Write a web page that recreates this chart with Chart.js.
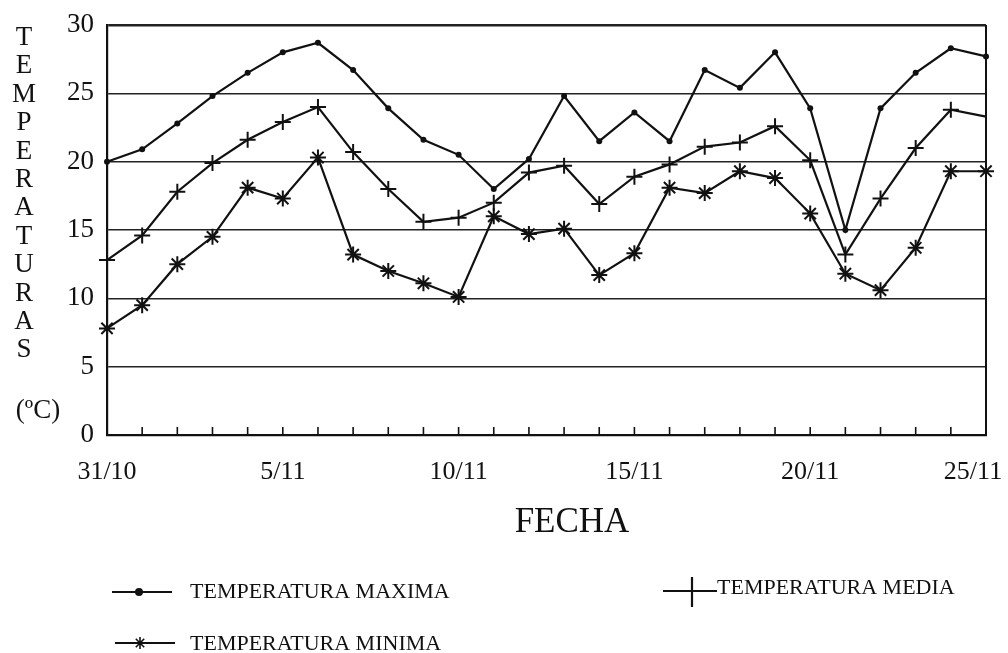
<!DOCTYPE html>
<html>
<head>
<meta charset="utf-8">
<script src="https://cdn.jsdelivr.net/npm/chart.js@4"></script>
<style>
  html, body { margin: 0; padding: 0; background: #fff; }
  #wrap { width: 1008px; height: 653px; }
</style>
</head>
<body>
<div id="wrap"><canvas id="c" width="1008" height="653"></canvas></div>
<script>
// ---- data ----
const dates = ['31/10','1/11','2/11','3/11','4/11','5/11','6/11','7/11','8/11','9/11','10/11','11/11','12/11',
               '13/11','14/11','15/11','16/11','17/11','18/11','19/11','20/11','21/11','22/11','23/11','24/11','25/11'];
const tempMax   = [20.0, 20.9, 22.8, 24.8, 26.5, 28.0, 28.7, 26.7, 23.9, 21.6, 20.5, 18.0, 20.2,
                   24.8, 21.5, 23.6, 21.5, 26.7, 25.4, 28.0, 23.9, 15.0, 23.9, 26.5, 28.3, 27.7];
const tempMedia = [12.8, 14.6, 17.8, 19.9, 21.6, 22.9, 24.0, 20.7, 18.0, 15.6, 15.9, 17.0, 19.2,
                   19.7, 16.9, 18.9, 19.8, 21.1, 21.4, 22.6, 20.1, 13.2, 17.3, 21.0, 23.8, 23.3];
const tempMin   = [7.8, 9.5, 12.5, 14.5, 18.1, 17.3, 20.3, 13.2, 12.0, 11.1, 10.1, 16.0, 14.7,
                   15.1, 11.7, 13.3, 18.1, 17.7, 19.3, 18.8, 16.2, 11.8, 10.6, 13.7, 19.3, 19.3];
const seriesNames = ['TEMPERATURA MAXIMA', 'TEMPERATURA MEDIA', 'TEMPERATURA MINIMA'];
const yTitle = 'TEMPERATURAS';
const yUnit = '(ºC)';
const xTitle = 'FECHA';
const labelEvery = 5;

const FONT = '"Liberation Serif", "Times New Roman", serif';
const INK = '#111';

const decorPlugin = {
  id: 'decor',
  afterDraw(chart) {
    const ctx = chart.ctx;
    const area = chart.chartArea;
    const xs = chart.scales.x;
    ctx.save();
    // right border
    ctx.strokeStyle = INK;
    ctx.lineWidth = 2;
    ctx.beginPath();
    ctx.moveTo(area.right, area.top);
    ctx.lineTo(area.right, area.bottom);
    ctx.stroke();
    // inward tick marks on x axis
    ctx.lineWidth = 1.6;
    for (let i = 1; i < dates.length; i++) {
      const px = xs.getPixelForValue(i);
      ctx.beginPath();
      ctx.moveTo(px, area.bottom);
      ctx.lineTo(px, area.bottom - 8);
      ctx.stroke();
    }
    // y title stacked letters
    ctx.fillStyle = INK;
    ctx.font = '27px ' + FONT;
    ctx.textAlign = 'center';
    ctx.textBaseline = 'middle';
    const letters = yTitle.split('');
    letters.forEach((ch, i) => ctx.fillText(ch, 24, 38 + i * 28.4));
    ctx.fillText(yUnit, 38, 411);
    // x title
    ctx.font = '35px ' + FONT;
    ctx.fillText(xTitle, 572, 523);
    // legend
    ctx.font = '22px ' + FONT;
    ctx.textAlign = 'left';
    const ds = chart.data.datasets;
    // max
    ctx.lineWidth = 2.2;
    ctx.beginPath(); ctx.moveTo(112, 592); ctx.lineTo(172, 592); ctx.stroke();
    ctx.beginPath(); ctx.arc(139, 592, 4, 0, Math.PI * 2); ctx.fill();
    ctx.fillText(ds[0].label, 190, 592);
    // media
    ctx.beginPath(); ctx.moveTo(663, 591); ctx.lineTo(717, 591); ctx.stroke();
    ctx.beginPath(); ctx.moveTo(692, 577); ctx.lineTo(692, 607); ctx.stroke();
    ctx.fillText(ds[1].label, 717, 588);
    // min
    ctx.beginPath(); ctx.moveTo(115, 643); ctx.lineTo(175, 643); ctx.stroke();
    ctx.lineWidth = 1.6;
    const sx = 140, sy = 643, r = 6;
    ctx.beginPath();
    ctx.moveTo(sx, sy - r); ctx.lineTo(sx, sy + r);
    ctx.moveTo(sx - r * 0.7, sy - r * 0.7); ctx.lineTo(sx + r * 0.7, sy + r * 0.7);
    ctx.moveTo(sx + r * 0.7, sy - r * 0.7); ctx.lineTo(sx - r * 0.7, sy + r * 0.7);
    ctx.stroke();
    ctx.fillText(ds[2].label, 190, 644);
    ctx.restore();
  }
};

const lastIdx = dates.length - 1;

new Chart(document.getElementById('c'), {
  type: 'line',
  data: {
    labels: dates,
    datasets: [
      {
        label: seriesNames[0], data: tempMax,
        borderColor: INK, backgroundColor: INK, borderWidth: 2.2,
        pointStyle: 'circle', pointRadius: 3, pointBorderWidth: 0,
        tension: 0, clip: false
      },
      {
        label: seriesNames[1], data: tempMedia,
        borderColor: INK, backgroundColor: INK, borderWidth: 2.2,
        pointStyle: 'cross', pointRadius: (c) => c.dataIndex === lastIdx ? 0 : 8, pointBorderWidth: 2,
        tension: 0, clip: false
      },
      {
        label: seriesNames[2], data: tempMin,
        borderColor: INK, backgroundColor: INK, borderWidth: 2.2,
        pointStyle: 'star', pointRadius: 8, pointBorderWidth: 2,
        tension: 0, clip: false
      }
    ]
  },
  options: {
    responsive: false,
    animation: false,
    devicePixelRatio: 1,
    layout: { padding: { left: 0, top: 25, right: 22, bottom: 0 } },
    plugins: { legend: { display: false }, tooltip: { enabled: false }, title: { display: false } },
    elements: { line: { borderJoinStyle: 'miter' } },
    scales: {
      x: {
        type: 'category',
        offset: false,
        grid: { display: false, drawTicks: false },
        border: { display: true, color: INK, width: 2.2 },
        ticks: {
          autoSkip: false, maxRotation: 0, minRotation: 0, padding: 22,
          color: INK, font: { family: FONT, size: 26 },
          // last label is padded so it stays inside the page, as in the original
          callback: (v, i) => (i % labelEvery === 0 ? (i === lastIdx ? dates[i] + '\u2002\u2002' : dates[i]) : '')
        },
        afterFit: (s) => { s.height = 218; s.paddingLeft = 0; s.paddingRight = 0; }
      },
      y: {
        min: 0, max: 30,
        grid: {
          drawTicks: false, color: '#222',
          lineWidth: (c) => (c.tick && c.tick.value === 30 ? 2.4 : (c.tick && c.tick.value === 0 ? 0 : 1.4))
        },
        border: { display: true, color: INK, width: 2.2 },
        ticks: { stepSize: 5, padding: 13, color: INK, font: { family: FONT, size: 27 } },
        afterFit: (s) => { s.width = 107; s.paddingTop = 0; s.paddingBottom = 0; }
      }
    }
  },
  plugins: [decorPlugin]
});
</script>
</body>
</html>
